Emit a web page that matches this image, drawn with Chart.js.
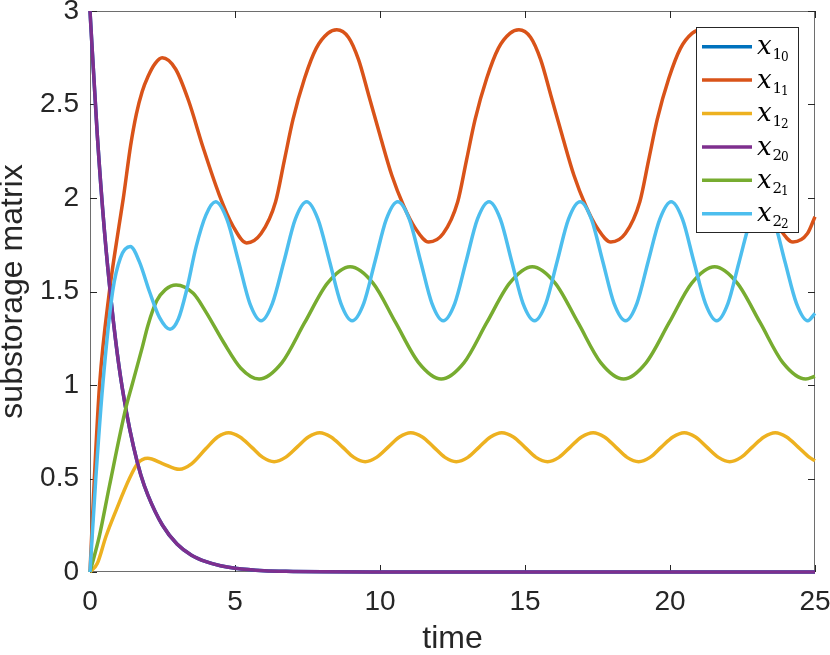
<!DOCTYPE html>
<html>
<head>
<meta charset="utf-8">
<script src="https://cdn.jsdelivr.net/npm/chart.js@4.4.1/dist/chart.umd.min.js"></script>
<style>
html,body{margin:0;padding:0;background:#fff;}
#wrap{width:830px;height:655px;position:relative;}
</style>
</head>
<body>
<div id="wrap"><canvas id="c" width="830" height="655"></canvas></div>
<script>
// ---- tick labels ----
const xTickValues = [0, 5, 10, 15, 20, 25];
const xTickLabels = ['0', '5', '10', '15', '20', '25'];
const yTickValues = [0, 0.5, 1, 1.5, 2, 2.5, 3];
const yTickLabels = ['0', '0.5', '1', '1.5', '2', '2.5', '3'];
const xAxisTitle = 'time';
const yAxisTitle = 'substorage matrix';

// ---- legend text: x_{sub_{subsub}} ----
const legendSub    = ['1', '1', '1', '2', '2', '2'];
const legendSubSub = ['0', '1', '2', '0', '1', '2'];

// ---- series values (time, value) ----
// x1_0 lies exactly under x2_0 in the picture
const x10Time  = [0,0.25,0.5,0.75,1,1.25,1.5,1.75,2,2.5,3,3.5,4,4.5,5,6,7,8,10,15,20,25];
const x10Value = [3,2.34,1.82,1.42,1.10,0.86,0.67,0.52,0.41,0.25,0.15,0.09,0.055,0.033,0.02,0.007,0.003,0.001,0,0,0,0];

const x11Time  = [0,0.15,0.33,0.67,1.0,1.15,1.4,1.6,1.8,2.0,2.25,2.49,2.95,3.4,3.9,4.45,4.93,5.4,
  5.9,6.4,6.7,7.0,7.4,7.8,8.2,8.51,8.91,9.26,9.61,10.01,10.41,10.81,11.21,11.68,
  12.18,12.68,12.98,13.28,13.68,14.08,14.48,14.79,15.19,15.54,15.89,16.29,16.69,17.09,17.49,17.96,
  18.46,18.96,19.26,19.56,19.96,20.36,20.76,21.07,21.47,21.82,22.17,22.57,22.97,23.37,23.77,24.24,
  24.74,25];
const x11Value = [0,0.5,1.0,1.5,1.85,2.0,2.28,2.45,2.57,2.65,2.72,2.75,2.69,2.52,2.27,2.02,1.85,1.76,
  1.81,1.98,2.2,2.42,2.64,2.8,2.88,2.9,2.86,2.74,2.55,2.33,2.12,1.96,1.84,1.765,
  1.81,1.98,2.2,2.42,2.64,2.8,2.88,2.9,2.86,2.74,2.55,2.33,2.12,1.96,1.84,1.765,
  1.81,1.98,2.2,2.42,2.64,2.8,2.88,2.9,2.86,2.74,2.55,2.33,2.12,1.96,1.84,1.765,
  1.81,1.9];

const x12Time  = [0,0.25,0.55,0.9,1.36,1.64,1.99,2.5,3.08,3.5,4.0,4.4,
  4.78,5.17,5.57,5.96,6.35,6.74,7.14,7.53,7.92,8.31,8.71,9.10,9.49,9.88,10.28,10.67,
  11.06,11.46,11.85,12.24,12.63,13.03,13.42,13.81,14.20,14.60,14.99,15.38,15.78,16.17,16.56,16.95,
  17.35,17.74,18.13,18.52,18.92,19.31,19.70,20.10,20.49,20.88,21.27,21.67,22.06,22.45,22.84,23.24,
  23.63,24.02,24.42,24.81,25];
const x12Value = [0,0.045,0.19,0.33,0.5,0.58,0.608,0.58,0.549,0.578,0.66,0.722,
  0.745,0.722,0.668,0.613,0.59,0.613,0.668,0.722,0.745,0.722,0.668,0.613,0.59,0.613,0.668,0.722,
  0.745,0.722,0.668,0.613,0.59,0.613,0.668,0.722,0.745,0.722,0.668,0.613,0.59,0.613,0.668,0.722,
  0.745,0.722,0.668,0.613,0.59,0.613,0.668,0.722,0.745,0.722,0.668,0.613,0.59,0.613,0.668,0.722,
  0.745,0.722,0.668,0.613,0.595];

const x20Time  = [0,0.25,0.5,0.75,1,1.25,1.5,1.75,2,2.5,3,3.5,4,4.5,5,6,7,8,10,15,20,25];
const x20Value = [3,2.34,1.82,1.42,1.10,0.86,0.67,0.52,0.41,0.25,0.15,0.09,0.055,0.033,0.02,0.007,0.003,0.001,0,0,0,0];

const x21Time  = [0,0.32,0.67,1.24,1.45,1.8,2.0,2.3,2.6,2.97,3.56,4.0,4.6,5.2,
  5.83,6.62,7.40,8.19,8.97,9.76,10.54,11.33,12.11,12.90,13.68,14.47,15.25,16.04,16.83,17.61,
  18.40,19.18,19.97,20.75,21.54,22.32,23.11,23.89,24.68,25];
const x21Value = [0,0.19,0.46,0.88,1.0,1.2,1.32,1.45,1.51,1.535,1.49,1.39,1.23,1.09,
  1.032,1.12,1.333,1.545,1.633,1.545,1.333,1.12,1.032,1.12,1.333,1.545,1.633,1.545,1.333,1.12,
  1.032,1.12,1.333,1.545,1.633,1.545,1.333,1.12,1.032,1.047];

const x22Time  = [0,0.2,0.44,0.78,1.05,1.39,1.7,2.05,2.4,2.76,3.05,3.32,3.66,4.0,
  4.33,4.72,5.12,5.51,5.90,6.29,6.69,7.08,7.47,7.86,8.26,8.65,9.04,9.44,9.83,10.22,
  10.61,11.01,11.40,11.79,12.18,12.58,12.97,13.36,13.76,14.15,14.54,14.93,15.33,15.72,16.11,16.50,
  16.90,17.29,17.68,18.07,18.47,18.86,19.25,19.65,20.04,20.43,20.82,21.22,21.61,22.00,22.39,22.79,
  23.18,23.57,23.96,24.36,24.75,25];
const x22Value = [0,0.5,1.0,1.5,1.68,1.74,1.66,1.5,1.36,1.298,1.354,1.5,1.74,1.91,
  1.98,1.887,1.662,1.437,1.344,1.437,1.662,1.887,1.98,1.887,1.662,1.437,1.344,1.437,1.662,1.887,
  1.98,1.887,1.662,1.437,1.344,1.437,1.662,1.887,1.98,1.887,1.662,1.437,1.344,1.437,1.662,1.887,
  1.98,1.887,1.662,1.437,1.344,1.437,1.662,1.887,1.98,1.887,1.662,1.437,1.344,1.437,1.662,1.887,
  1.98,1.887,1.662,1.437,1.344,1.383];

const seriesTimes  = [x10Time, x11Time, x12Time, x20Time, x21Time, x22Time];
const seriesValues = [x10Value, x11Value, x12Value, x20Value, x21Value, x22Value];
const seriesColors = ['#0072BD', '#D95319', '#EDB120', '#7E2F8E', '#77AC30', '#4DBEEE'];

const AXIS_COLOR = '#262626';
const BOX_COLOR = '#6e6e6e';
const LINE_W = 3.5;

const datasets = seriesTimes.map((ts, i) => ({
  label: 'x_' + legendSub[i] + '_' + legendSubSub[i],
  data: ts.map((t, j) => ({ x: t, y: seriesValues[i][j] })),
  borderColor: seriesColors[i],
  backgroundColor: seriesColors[i],
  borderWidth: LINE_W,
  pointRadius: 0,
  pointHoverRadius: 0,
  fill: false,
  cubicInterpolationMode: 'monotone',
  clip: 4,
  order: seriesTimes.length - i
}));

const boxAndTicks = {
  id: 'boxAndTicks',
  beforeDatasetsDraw(chart) {
    const { ctx, chartArea: a, scales } = chart;
    ctx.save();
    ctx.lineWidth = 1;
    ctx.strokeStyle = BOX_COLOR;
    ctx.strokeRect(Math.round(a.left) + 0.5, Math.round(a.top) + 0.5,
      Math.round(a.right - a.left) - 1, Math.round(a.bottom - a.top) - 1);
    ctx.strokeStyle = AXIS_COLOR;
    const tl = 7;
    ctx.beginPath();
    scales.x.ticks.forEach(t => {
      const px = Math.round(scales.x.getPixelForValue(t.value)) + 0.5;
      ctx.moveTo(px, a.bottom); ctx.lineTo(px, a.bottom - tl);
      ctx.moveTo(px, a.top); ctx.lineTo(px, a.top + tl);
    });
    scales.y.ticks.forEach(t => {
      const py = Math.round(scales.y.getPixelForValue(t.value)) + 0.5;
      ctx.moveTo(a.left, py); ctx.lineTo(a.left + tl, py);
      ctx.moveTo(a.right, py); ctx.lineTo(a.right - tl, py);
    });
    ctx.stroke();
    ctx.restore();
  }
};

const mathLegend = {
  id: 'mathLegend',
  afterDraw(chart) {
    const { ctx } = chart;
    const bx = 696, by = 27, bw = 102, bh = 205;
    const rowH = 33.4, firstRow = 46.7;
    ctx.save();
    ctx.fillStyle = '#ffffff';
    ctx.fillRect(bx, by, bw, bh);
    ctx.lineWidth = 1;
    ctx.strokeStyle = AXIS_COLOR;
    ctx.strokeRect(bx + 0.5, by + 0.5, bw, bh);
    chart.data.datasets.forEach((ds, i) => {
      const y = firstRow + i * rowH;
      ctx.strokeStyle = ds.borderColor;
      ctx.lineWidth = LINE_W;
      ctx.beginPath();
      ctx.moveTo(702, y); ctx.lineTo(752, y);
      ctx.stroke();
      ctx.fillStyle = '#000000';
      ctx.textBaseline = 'alphabetic';
      ctx.textAlign = 'left';
      ctx.font = 'italic 26px "DejaVu Serif", serif';
      ctx.fillText('x', 757, y + 7.6);
      ctx.font = '15px "DejaVu Serif", serif';
      ctx.fillText(legendSub[i], 772.5, y + 12.6);
      ctx.font = '12px "DejaVu Serif", serif';
      ctx.fillText(legendSubSub[i], 781, y + 14.5);
    });
    ctx.restore();
  }
};

const tickFont = { family: '"Liberation Sans", Arial, Helvetica, sans-serif', size: 28 };
const titleFont = { family: '"Liberation Sans", Arial, Helvetica, sans-serif', size: 32, lineHeight: 1 };

new Chart(document.getElementById('c'), {
  type: 'line',
  data: { datasets },
  options: {
    responsive: false,
    animation: false,
    devicePixelRatio: 1,
    events: [],
    layout: { padding: { left: 0, right: 15, top: 11, bottom: 0 } },
    plugins: { legend: { display: false }, tooltip: { enabled: false } },
    scales: {
      x: {
        type: 'linear', min: 0, max: 25,
        afterBuildTicks: s => { s.ticks = xTickValues.map(v => ({ value: v })); },
        afterFit: s => { s.height = 83; s.paddingLeft = 0; s.paddingRight = 0; },
        grid: { display: false, drawTicks: false },
        border: { display: false },
        ticks: {
          font: tickFont, color: AXIS_COLOR, padding: 13, maxRotation: 0, autoSkip: false,
          callback: v => xTickLabels[xTickValues.indexOf(v)]
        },
        title: { display: true, text: xAxisTitle, font: titleFont, color: AXIS_COLOR, padding: { top: -2, bottom: 0 } }
      },
      y: {
        type: 'linear', min: 0, max: 3,
        afterBuildTicks: s => { s.ticks = yTickValues.map(v => ({ value: v })); },
        afterFit: s => { s.width = 90; s.paddingTop = 0; s.paddingBottom = 0; },
        grid: { display: false, drawTicks: false },
        border: { display: false },
        ticks: {
          font: tickFont, color: AXIS_COLOR, padding: 11, autoSkip: false,
          callback: v => yTickLabels[yTickValues.indexOf(v)]
        },
        title: { display: true, text: yAxisTitle, font: titleFont, color: AXIS_COLOR, padding: { top: -3, bottom: 0 } }
      }
    }
  },
  plugins: [boxAndTicks, mathLegend]
});
</script>
</body>
</html>
